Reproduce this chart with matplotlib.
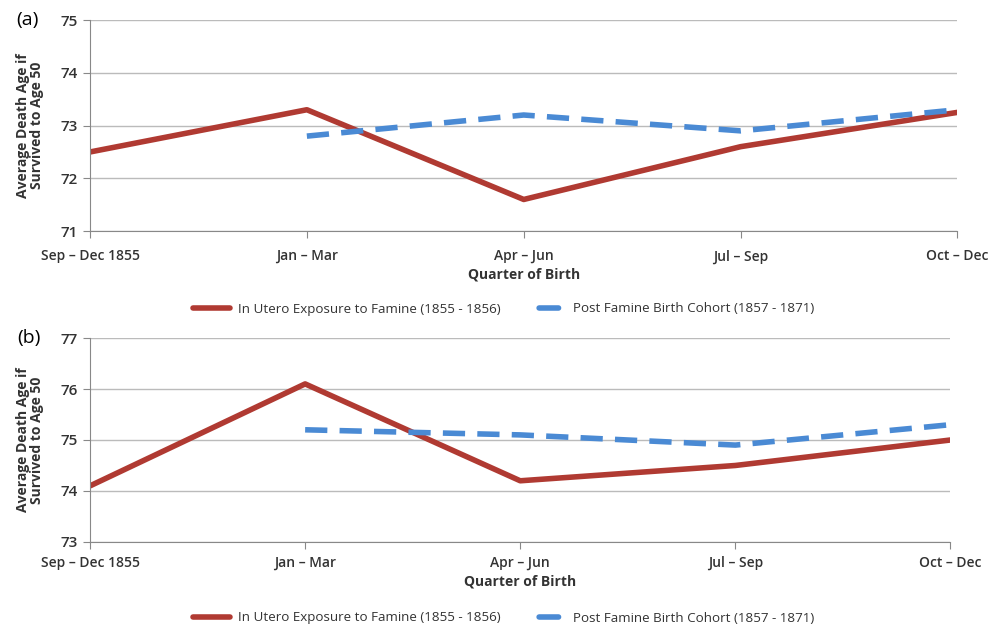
import numpy as np
import matplotlib.pyplot as plt
from matplotlib.lines import Line2D

# categories on the x axis
quarters = ["Sep \u2013 Dec 1855", "Jan \u2013 Mar", "Apr \u2013 Jun", "Jul \u2013 Sep", "Oct \u2013 Dec"]

# panel (a)
a_utero = [72.5, 73.3, 71.6, 72.6, 73.25]
a_post = [72.8, 73.2, 72.9, 73.3]   # starts at Jan - Mar

# panel (b)
b_utero = [74.1, 76.1, 74.2, 74.5, 75.0]
b_post = [75.2, 75.1, 74.9, 75.3]

utero_label = "In Utero Exposure to Famine (1855 - 1856)"
post_label = "Post Famine Birth Cohort (1857 - 1871)"

red = "#b03a32"
blue = "#4a8ad4"
plt.rcParams['font.family'] = ['Open Sans', 'DejaVu Sans']

fig = plt.figure(figsize=(9.97, 6.35), dpi=100)

def draw_panel(rect, utero, post, ylim, label, xpad, leg_y):
    ax = fig.add_axes(rect)
    x = np.arange(len(quarters))
    ax.plot(x, utero, color=red, lw=4, solid_capstyle='butt')
    ax.plot(x[1:], post, color=blue, lw=4, dashes=(4, 2.2))
    ax.set_xlim(0, len(quarters) - 1)
    ax.set_ylim(*ylim)
    ax.set_yticks(np.arange(ylim[0], ylim[1] + 1))
    ax.set_xticks(x)
    ax.set_xticklabels(quarters, fontsize=10, fontweight='semibold', color='#333333')
    for t in ax.get_yticklabels():
        t.set_fontsize(11)
        t.set_fontweight('semibold')
        t.set_color('#333333')
    ax.grid(axis='y', color='#bbbbbb', lw=1)
    ax.set_axisbelow(True)
    for s in ['top', 'right']:
        ax.spines[s].set_visible(False)
    ax.spines['left'].set_color('#888888')
    ax.spines['bottom'].set_color('#888888')
    ax.tick_params(axis='both', color='#888888', length=5)
    ax.tick_params(axis='x', pad=xpad)
    ax.set_xlabel("Quarter of Birth", fontsize=10, fontweight='bold', color='#333333', labelpad=3)
    ax.set_ylabel("Average Death Age if\nSurvived to Age 50", fontsize=10, fontweight='bold',
                  color='#333333', labelpad=12, linespacing=1.0)
    # legend proxies: a solid red bar and a single blue dash
    h1 = Line2D([], [], color=red, lw=4, solid_capstyle='round')
    h2 = Line2D([], [], color=blue, lw=4, linestyle=(5.0, (3.5, 3.5)), dash_capstyle='round')
    leg = fig.legend([h1, h2], [utero_label, post_label], loc='center',
                     bbox_to_anchor=(0.505, leg_y), ncol=2, frameon=False,
                     fontsize=9.6, handlelength=2.8, handletextpad=0.6, columnspacing=2.0)
    for t in leg.get_texts():
        t.set_color('#333333')
    ax.text(-0.085, 1.0, label, transform=ax.transAxes, fontsize=14, va='center', ha='left')
    return ax

draw_panel([0.0903, 0.636, 0.87, 0.3325], a_utero, a_post, (71, 75), "(a)", 8, 1 - 309 / 635)
draw_panel([0.0903, 0.1465, 0.863, 0.3212], b_utero, b_post, (73, 77), "(b)", 5, 1 - 618 / 635)

fig.savefig("out.png", dpi=100)
